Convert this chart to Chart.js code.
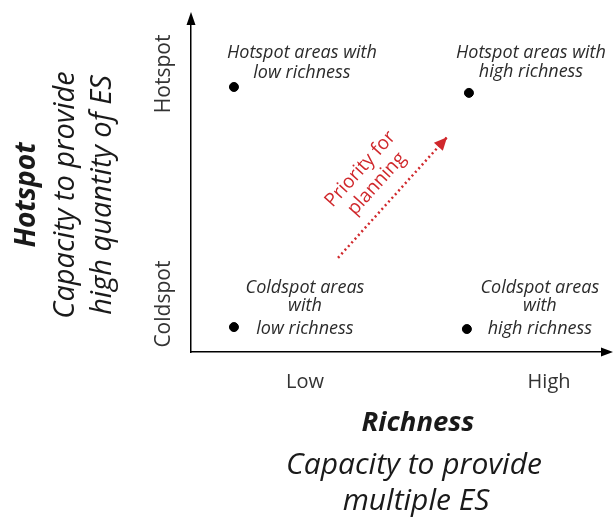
<!DOCTYPE html>
<html>
<head>
<meta charset="utf-8">
<script src="https://cdn.jsdelivr.net/npm/chart.js@4"></script>
<style>
  html, body { margin: 0; padding: 0; background: #fff; }
  #chart { display: block; }
</style>
</head>
<body>
<canvas id="chart" width="613" height="517"></canvas>
<script>
// quadrant positions (richness = x, hotspot capacity = y), 0..10 scales
const richness = [1.04, 6.73, 1.04, 6.68];
const hotspot = [8.08, 7.9, 0.76, 0.7];
const areaLabels = [
  ["Hotspot areas with", "low richness"],
  ["Hotspot areas with", "high richness"],
  ["Coldspot areas", "with", "low richness"],
  ["Coldspot areas", "with", "high richness"],
];

const xTickValues = [2.76, 8.67];
const xTickLabels = ["Low", "High"];
const yTickValues = [1.46, 8.48];
const yTickLabels = ["Coldspot", "Hotspot"];

// "priority for planning" arrow
const priorityX = [3.56, 6.2];
const priorityY = [2.87, 6.55];

const FONT = "'Open Sans', sans-serif";
const RED = "#d0282c";

// where each area label sits relative to its dot (px)
const labelOffsets = [
  { dx: 68, dy: [-34, -14] },
  { dx: 62, dy: [-40, -21] },
  { dx: 71, dy: [-39, -21, 2] },
  { dx: 73, dy: [-41, -23, 0] },
];

const overlay = {
  id: "overlay",
  afterDraw(chart) {
    const ctx = chart.ctx;
    const area = chart.chartArea;
    const ys = chart.scales.y;

    ctx.save();
    ctx.fillStyle = "#000";
    // y axis arrowhead
    ctx.beginPath();
    ctx.moveTo(area.left, area.top - 12);
    ctx.lineTo(area.left - 4.5, area.top + 1);
    ctx.lineTo(area.left + 4.5, area.top + 1);
    ctx.closePath();
    ctx.fill();
    // x axis arrowhead
    ctx.beginPath();
    ctx.moveTo(area.right + 9, area.bottom);
    ctx.lineTo(area.right - 3, area.bottom - 4.5);
    ctx.lineTo(area.right - 3, area.bottom + 4.5);
    ctx.closePath();
    ctx.fill();

    // area labels
    ctx.fillStyle = "#2b2b2b";
    ctx.font = "italic 18px " + FONT;
    ctx.textAlign = "center";
    ctx.textBaseline = "middle";
    const pts = chart.getDatasetMeta(0).data;
    pts.forEach((p, i) => {
      const off = labelOffsets[i];
      areaLabels[i].forEach((line, j) => {
        ctx.fillText(line, p.x + off.dx, p.y + off.dy[j]);
      });
    });

    // y tick labels (rotated)
    ctx.fillStyle = "#333";
    ctx.font = "21px " + FONT;
    yTickValues.forEach((v, i) => {
      ctx.save();
      ctx.translate(164, ys.getPixelForValue(v));
      ctx.rotate(-Math.PI / 2);
      ctx.fillText(yTickLabels[i], 0, 0);
      ctx.restore();
    });

    // priority arrowhead + text
    const arrow = chart.getDatasetMeta(1).data;
    const a = arrow[0], b = arrow[arrow.length - 1];
    const ang = Math.atan2(b.y - a.y, b.x - a.x);
    ctx.fillStyle = RED;
    ctx.save();
    ctx.translate(b.x, b.y);
    ctx.rotate(ang);
    ctx.beginPath();
    ctx.moveTo(0, 0);
    ctx.lineTo(-13, -6);
    ctx.lineTo(-13, 6);
    ctx.closePath();
    ctx.fill();
    ctx.restore();

    ctx.save();
    ctx.translate((a.x + b.x) / 2 - 24, (a.y + b.y) / 2 - 21);
    ctx.rotate(ang);
    ctx.font = "19px " + FONT;
    ctx.fillText("Priority for", 0, -11);
    ctx.fillText("planning", 0, 11);
    ctx.restore();

    // y axis title
    ctx.fillStyle = "#1a1a1a";
    const yTitle = [
      { text: "Hotspot", x: 27, font: "italic bold 28px " + FONT },
      { text: "Capacity to provide", x: 66, font: "italic 29px " + FONT },
      { text: "high quantity of ES", x: 103, font: "italic 29px " + FONT },
    ];
    yTitle.forEach((t) => {
      ctx.save();
      ctx.translate(t.x, 195);
      ctx.rotate(-Math.PI / 2);
      ctx.font = t.font;
      ctx.fillText(t.text, 0, 0);
      ctx.restore();
    });

    // x axis title
    ctx.font = "italic bold 27.5px " + FONT;
    ctx.fillText("Richness", 418, 423);
    ctx.font = "italic 30px " + FONT;
    ctx.fillText("Capacity to provide", 414, 465);
    ctx.fillText("multiple ES", 416, 501);
    ctx.restore();
  },
};

const chart = new Chart(document.getElementById("chart"), {
  type: "scatter",
  data: {
    datasets: [
      {
        label: "areas",
        data: richness.map((x, i) => ({ x: x, y: hotspot[i] })),
        backgroundColor: "#000",
        borderColor: "#000",
        pointRadius: 4.5,
        pointHoverRadius: 4.5,
      },
      {
        label: "priority",
        data: priorityX.map((x, i) => ({ x: x, y: priorityY[i] })),
        showLine: true,
        borderColor: RED,
        borderWidth: 2.5,
        borderDash: [2, 3],
        pointRadius: 0,
      },
    ],
  },
  options: {
    responsive: false,
    animation: false,
    devicePixelRatio: 1,
    layout: { padding: { top: 24, right: 9, left: 0, bottom: 0 } },
    plugins: {
      legend: { display: false },
      tooltip: { enabled: false },
    },
    scales: {
      x: {
        type: "linear",
        min: 0,
        max: 10,
        grid: { display: false, drawTicks: false },
        border: { display: true, color: "#000", width: 1.5 },
        afterBuildTicks: (scale) => {
          scale.ticks = xTickValues.map((v) => ({ value: v }));
        },
        afterFit: (scale) => {
          scale.height = 165;
        },
        ticks: {
          padding: 18,
          color: "#333",
          font: { family: "'Open Sans', sans-serif", size: 20 },
          callback: (v, i) => xTickLabels[i],
        },
      },
      y: {
        type: "linear",
        min: 0,
        max: 10,
        grid: { display: false, drawTicks: false },
        border: { display: true, color: "#000", width: 1.5 },
        ticks: { display: false },
        afterFit: (scale) => {
          scale.width = 191;
        },
      },
    },
  },
  plugins: [overlay],
});
</script>
</body>
</html>
